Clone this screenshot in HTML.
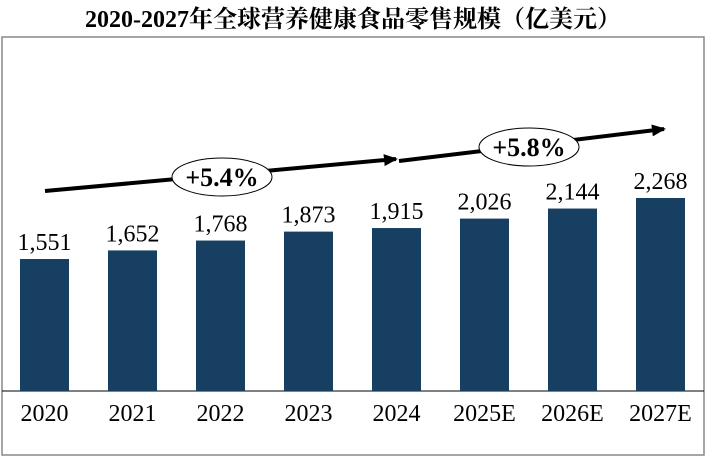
<!DOCTYPE html>
<html><head><meta charset="utf-8"><style>
body{margin:0;background:#fff;width:706px;height:457px;overflow:hidden}
svg{display:block}
</style></head><body>
<svg width="706" height="457">
<text x="353" y="27" text-anchor="middle" font-family="Liberation Serif, Noto Serif CJK SC, serif" font-weight="bold" font-size="24">2020-2027年全球营养健康食品零售规模（亿美元）</text>
<rect x="2" y="37" width="702" height="418" fill="none" stroke="#888" stroke-width="1.5"/>
<line x1="2" y1="391" x2="704" y2="391" stroke="#000" stroke-width="1"/>
<g id="bars"></g>
<defs><marker id="ah" markerWidth="14" markerHeight="12" refX="12" refY="6" orient="auto" markerUnits="userSpaceOnUse"><path d="M0,0 L14,6 L0,12 z" fill="#000"/></marker></defs>
<line x1="45" y1="191" x2="396" y2="159" stroke="#000" stroke-width="4" marker-end="url(#ah)"/>
<line x1="399" y1="161" x2="664" y2="129" stroke="#000" stroke-width="4" marker-end="url(#ah)"/>
<g><ellipse cx="222" cy="177" rx="50" ry="19" fill="#fff" stroke="#000" stroke-width="1"/><text x="222" y="186" text-anchor="middle" font-family="Liberation Serif, serif" font-weight="bold" font-size="26">+5.4%</text></g>
<g><ellipse cx="529" cy="147" rx="50" ry="19" fill="#fff" stroke="#000" stroke-width="1"/><text x="529" y="156" text-anchor="middle" font-family="Liberation Serif, serif" font-weight="bold" font-size="26">+5.8%</text></g>
</svg>
<script>
const categories=["2020","2021","2022","2023","2024","2025E","2026E","2027E"];
const values=[1551,1652,1768,1873,1915,2026,2144,2268];
const valueLabels=["1,551","1,652","1,768","1,873","1,915","2,026","2,144","2,268"];
const NS="http://www.w3.org/2000/svg";
const base=391,scale=193/2268,x0=44.5,step=88,bw=49;
const xs=i=>x0+step*i, ys=v=>base-v*scale;
const g=document.getElementById('bars');
categories.forEach((c,i)=>{
  const r=document.createElementNS(NS,'rect');
  r.setAttribute('x',xs(i)-bw/2);r.setAttribute('y',ys(values[i]));
  r.setAttribute('width',bw);r.setAttribute('height',base-ys(values[i]));
  r.setAttribute('fill','#163F61');
  
  
  g.appendChild(r);
  const t=document.createElementNS(NS,'text');
  t.setAttribute('x',xs(i));t.setAttribute('y',ys(values[i])-9);
  t.setAttribute('text-anchor','middle');t.setAttribute('font-family','Liberation Serif, serif');t.setAttribute('font-size','24');
  t.textContent=valueLabels[i];
  
  
  g.appendChild(t);
  const l=document.createElementNS(NS,'text');
  l.setAttribute('x',xs(i));l.setAttribute('y',421);
  l.setAttribute('text-anchor','middle');l.setAttribute('font-family','Liberation Serif, serif');l.setAttribute('font-size','24');
  l.textContent=c;
  
  
  g.appendChild(l);
});
</script>
</body></html>
